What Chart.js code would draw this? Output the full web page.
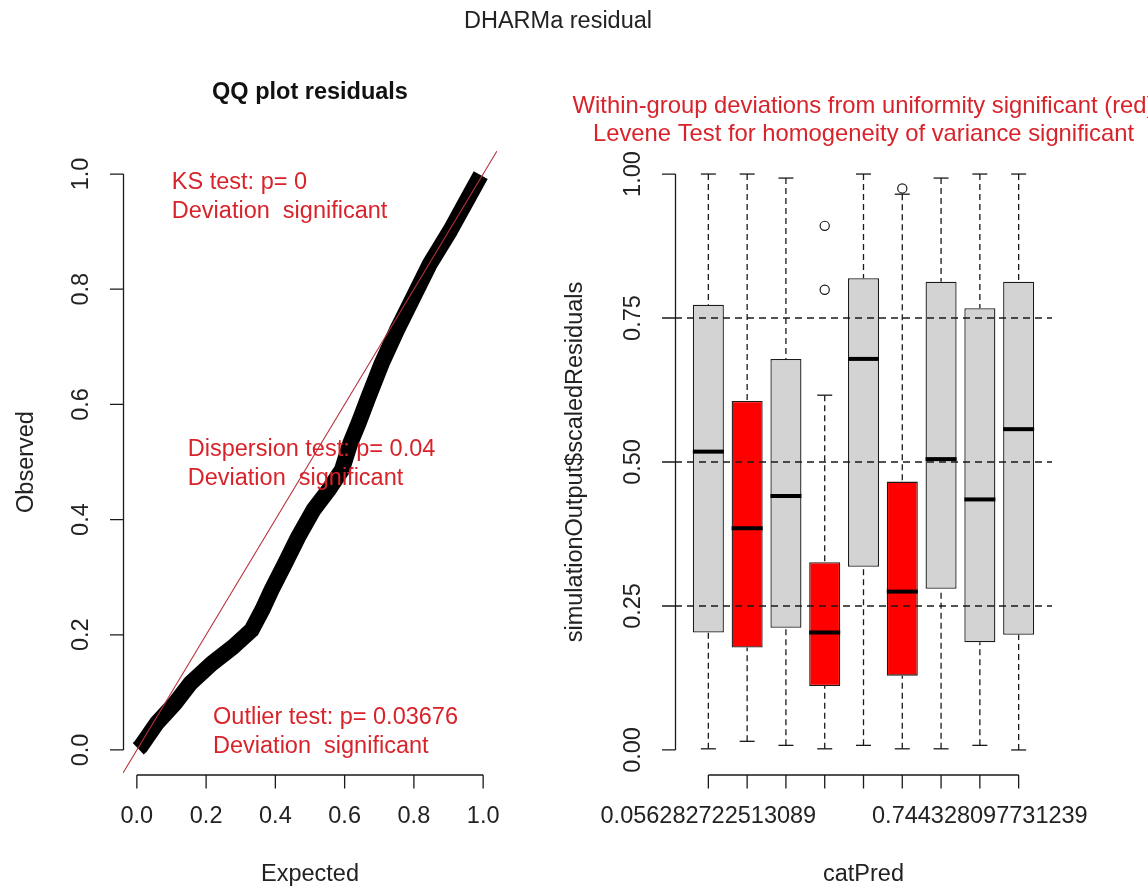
<!DOCTYPE html>
<html>
<head>
<meta charset="utf-8">
<title>DHARMa residual</title>
<script src="https://cdn.jsdelivr.net/npm/chart.js@4.4.0/dist/chart.umd.min.js"></script>
<style>
	body { margin: 0; background: #ffffff; }
	#page { position: relative; width: 1148px; height: 890px; overflow: hidden; background: #ffffff; }
	#qqChart { position: absolute; left: 0; top: 0; }
	#boxChart { position: absolute; left: 540px; top: 0; }
	#mainTitle {
		position: absolute; left: 0; top: 6px; width: 1116px; text-align: center;
		font: 23.5px "Liberation Sans", Arial, sans-serif; line-height: 28px; color: #222;
	}
</style>
</head>
<body>
<div id="page">
	<canvas id="qqChart" width="560" height="890"></canvas>
	<canvas id="boxChart" width="608" height="890"></canvas>
	<div id="mainTitle">DHARMa residual</div>
</div>
<script>
// uniform QQ plot of the scaled residuals
var qqExpected = [0.004, 0.011, 0.057, 0.110, 0.155, 0.216, 0.278, 0.331, 0.362, 0.389, 0.428, 0.466, 0.510,
	0.553, 0.592, 0.616, 0.640, 0.669, 0.707, 0.751, 0.799, 0.847, 0.905, 0.958, 0.993];
var qqObserved = [0.002, 0.006, 0.046, 0.081, 0.116, 0.150, 0.179, 0.208, 0.243, 0.278, 0.324, 0.370, 0.417,
	0.451, 0.486, 0.532, 0.567, 0.613, 0.671, 0.729, 0.787, 0.845, 0.902, 0.960, 0.998];
var qqTicks = [0, 0.2, 0.4, 0.6, 0.8, 1];
var qqLimits = [-0.04, 1.04];

var ksText = ['KS test: p= 0', 'Deviation  significant'];
var dispersionText = ['Dispersion test: p= 0.04', 'Deviation  significant'];
var outlierText = ['Outlier test: p= 0.03676', 'Deviation  significant'];

// residuals grouped by catPred
var catLabels = ['0.056282722513089', '', '', '', '', '', '', '0.744328097731239', ''];
var boxLower = [0.002, 0.015, 0.008, 0.002, 0.008, 0.002, 0.002, 0.008, 0.000];
var boxQ1 = [0.204, 0.178, 0.212, 0.111, 0.318, 0.129, 0.280, 0.187, 0.200];
var boxMedian = [0.518, 0.385, 0.441, 0.204, 0.679, 0.275, 0.505, 0.435, 0.557];
var boxQ3 = [0.773, 0.606, 0.679, 0.326, 0.819, 0.466, 0.813, 0.767, 0.813];
var boxUpper = [1.000, 1.000, 0.993, 0.616, 1.000, 0.965, 0.993, 1.000, 1.000];
var boxOutliers = [[], [], [], [0.910, 0.799], [], [0.975], [], [], []];
var groupSignificant = [false, true, false, true, false, true, false, false, false];
var residTicks = [0, 0.25, 0.5, 0.75, 1];
var residQuantiles = [0.25, 0.5, 0.75];

var FONT = '"Liberation Sans", Arial, sans-serif';
var FONT_SIZE = 23.5;
var RED = '#d8232b';
var INK = '#1a1a1a';

function setTicks(values) {
	return function(scale) {
		scale.ticks = values.map(function(v) { return {value: v}; });
	};
}

// R style axes: line from first to last tick, ticks pointing outwards
function drawAxes(chart) {
	var ctx = chart.ctx, area = chart.chartArea;
	var xs = chart.scales.x, ys = chart.scales.y;
	var xLine = area.bottom + 2, yLine = area.left + 0.5;
	var xp = xs.ticks.map(function(t) { return xs.getPixelForValue(t.value); });
	var yp = ys.ticks.map(function(t) { return ys.getPixelForValue(t.value); });

	ctx.save();
	ctx.strokeStyle = INK;
	ctx.lineWidth = 1.3;
	ctx.beginPath();
	ctx.moveTo(xp[0], xLine);
	ctx.lineTo(xp[xp.length - 1], xLine);
	xp.forEach(function(p) { ctx.moveTo(p, xLine); ctx.lineTo(p, xLine + 13.5); });
	ctx.moveTo(yLine, yp[0]);
	ctx.lineTo(yLine, yp[yp.length - 1]);
	yp.forEach(function(p) { ctx.moveTo(yLine, p); ctx.lineTo(yLine - 13.5, p); });
	ctx.stroke();

	ctx.fillStyle = '#222';
	ctx.font = FONT_SIZE + 'px ' + FONT;
	ctx.textAlign = 'center';
	ctx.textBaseline = 'middle';
	xs.ticks.forEach(function(t, i) {
		if (t.label) ctx.fillText(t.label, xp[i], xLine + 42);
	});
	ys.ticks.forEach(function(t, i) {
		ctx.save();
		ctx.translate(yLine - 42, yp[i]);
		ctx.rotate(-Math.PI / 2);
		ctx.fillText(t.label, 0, 0);
		ctx.restore();
	});
	ctx.restore();
}

function drawTitle(chart, title) {
	var ctx = chart.ctx, area = chart.chartArea;
	ctx.save();
	ctx.font = (title.bold ? 'bold ' : '') + title.size + 'px ' + FONT;
	ctx.fillStyle = title.color;
	ctx.textAlign = 'center';
	ctx.textBaseline = 'middle';
	title.lines.forEach(function(line, i) {
		ctx.fillText(line, (area.left + area.right) / 2, title.y + i * 28);
	});
	ctx.restore();
}

// test results written inside the QQ panel, anchored in data units
function drawNotes(chart, notes) {
	var ctx = chart.ctx, xs = chart.scales.x, ys = chart.scales.y;
	ctx.save();
	ctx.font = FONT_SIZE + 'px ' + FONT;
	ctx.fillStyle = RED;
	ctx.textAlign = 'left';
	ctx.textBaseline = 'middle';
	notes.forEach(function(n) {
		var px = xs.getPixelForValue(n.x), py = ys.getPixelForValue(n.y);
		n.lines.forEach(function(line, i) { ctx.fillText(line, px, py + i * 29); });
	});
	ctx.restore();
}

function drawWhiskers(chart) {
	var ctx = chart.ctx, xs = chart.scales.x, ys = chart.scales.y;
	ctx.save();
	ctx.strokeStyle = INK;
	ctx.lineWidth = 1.3;
	ctx.setLineDash([6, 4]);
	boxMedian.forEach(function(m, i) {
		var px = xs.getPixelForValue(i + 1);
		ctx.beginPath();
		ctx.moveTo(px, ys.getPixelForValue(boxUpper[i]));
		ctx.lineTo(px, ys.getPixelForValue(boxQ3[i]));
		ctx.moveTo(px, ys.getPixelForValue(boxLower[i]));
		ctx.lineTo(px, ys.getPixelForValue(boxQ1[i]));
		ctx.stroke();
	});
	ctx.restore();
}

function drawRefLines(chart, values) {
	var ctx = chart.ctx, area = chart.chartArea, ys = chart.scales.y;
	ctx.save();
	ctx.strokeStyle = INK;
	ctx.lineWidth = 1.3;
	ctx.setLineDash([7, 5]);
	ctx.beginPath();
	values.forEach(function(v) {
		var py = ys.getPixelForValue(v);
		ctx.moveTo(area.left, py);
		ctx.lineTo(area.right, py);
	});
	ctx.stroke();
	ctx.restore();
}

function makeRPlot(cfg) {
	return {
		id: 'rPlot',
		beforeDatasetsDraw: function(chart) {
			if (cfg.whiskers) drawWhiskers(chart);
		},
		afterDatasetsDraw: function(chart) {
			if (cfg.refLines) drawRefLines(chart, cfg.refLines);
		},
		afterDraw: function(chart) {
			drawAxes(chart);
			drawTitle(chart, cfg.title);
			if (cfg.notes) drawNotes(chart, cfg.notes);
		}
	};
}

function axisTitle(text, padding) {
	return {display: true, text: text, color: '#222', font: {family: FONT, size: FONT_SIZE}, padding: padding};
}

function createQQChart(chartId) {
	var refLine = qqLimits.map(function(v) { return {x: v, y: v}; });
	var points = qqExpected.map(function(v, i) { return {x: v, y: qqObserved[i]}; });

	return new Chart(document.getElementById(chartId), {
		type: 'scatter',
		data: {
			datasets: [
				{data: refLine, showLine: true, borderColor: '#b8323a', borderWidth: 1.1, pointRadius: 0, clip: 0},
				{data: points, showLine: true, borderColor: '#000000', borderWidth: 16, borderJoinStyle: 'round',
					pointRadius: 0, clip: 0}
			]
		},
		options: {
			responsive: false,
			animation: false,
			devicePixelRatio: 1,
			events: [],
			layout: {padding: {top: 151, right: 63, bottom: 0, left: 0}},
			plugins: {legend: {display: false}, tooltip: {enabled: false}},
			scales: {
				x: {
					type: 'linear', min: qqLimits[0], max: qqLimits[1],
					grid: {display: false}, border: {display: false},
					ticks: {display: false, callback: function(v) { return v.toFixed(1); }},
					afterBuildTicks: setTicks(qqTicks),
					afterFit: function(scale) { scale.height = 117; },
					title: axisTitle('Expected', {top: 0, bottom: 1})
				},
				y: {
					type: 'linear', min: qqLimits[0], max: qqLimits[1],
					grid: {display: false}, border: {display: false},
					ticks: {display: false, callback: function(v) { return v.toFixed(1); }},
					afterBuildTicks: setTicks(qqTicks),
					afterFit: function(scale) { scale.width = 123; },
					title: axisTitle('Observed', {top: 12, bottom: 0})
				}
			}
		},
		plugins: [makeRPlot({
			title: {lines: ['QQ plot residuals'], y: 93, size: FONT_SIZE, bold: true, color: '#111'},
			notes: [
				{x: 0.101, y: 0.986, lines: ksText},
				{x: 0.147, y: 0.521, lines: dispersionText},
				{x: 0.220, y: 0.056, lines: outlierText}
			]
		})]
	});
}

function createBoxChart(chartId) {
	var boxes = boxQ1.map(function(q1, i) { return {x: i + 1, y: [q1, boxQ3[i]]}; });
	var medians = boxMedian.map(function(m, i) { return {x: i + 1, y: m}; });
	var caps = [];
	var outliers = [];
	boxLower.forEach(function(lo, i) {
		caps.push({x: i + 1, y: lo});
		caps.push({x: i + 1, y: boxUpper[i]});
		boxOutliers[i].forEach(function(v) { outliers.push({x: i + 1, y: v}); });
	});
	var fills = groupSignificant.map(function(s) { return s ? '#ff0000' : '#d3d3d3'; });

	return new Chart(document.getElementById(chartId), {
		type: 'bar',
		data: {
			datasets: [
				{type: 'scatter', data: outliers, pointStyle: 'circle', pointRadius: 4.6,
					backgroundColor: '#ffffff', borderColor: INK, borderWidth: 1.2},
				{type: 'scatter', data: medians, pointStyle: 'line', pointRadius: 15.5,
					borderColor: '#000000', borderWidth: 4},
				{type: 'scatter', data: caps, pointStyle: 'line', pointRadius: 7.5,
					borderColor: INK, borderWidth: 1.3},
				{type: 'bar', data: boxes, backgroundColor: fills, borderColor: INK, borderWidth: 1.3,
					borderSkipped: false, barPercentage: 0.8, categoryPercentage: 1}
			]
		},
		options: {
			responsive: false,
			animation: false,
			devicePixelRatio: 1,
			events: [],
			layout: {padding: {top: 151, right: 96, bottom: 0, left: 0}},
			plugins: {legend: {display: false}, tooltip: {enabled: false}},
			scales: {
				x: {
					type: 'linear', min: 0.14, max: 9.86, offset: false,
					grid: {display: false}, border: {display: false},
					ticks: {display: false, callback: function(v) { return catLabels[Math.round(v) - 1]; }},
					afterBuildTicks: setTicks(catLabels.map(function(c, i) { return i + 1; })),
					afterFit: function(scale) { scale.height = 117; },
					title: axisTitle('catPred', {top: 0, bottom: 1})
				},
				y: {
					type: 'linear', min: -0.04, max: 1.04,
					grid: {display: false}, border: {display: false},
					ticks: {display: false, callback: function(v) { return v.toFixed(2); }},
					afterBuildTicks: setTicks(residTicks),
					afterFit: function(scale) { scale.width = 135; },
					title: axisTitle('simulationOutput$scaledResiduals', {top: 21, bottom: 0})
				}
			}
		},
		plugins: [makeRPlot({
			title: {
				lines: ['Within-group deviations from uniformity significant (red)',
					'Levene Test for homogeneity of variance significant'],
				y: 106, size: 23.8, bold: false, color: RED
			},
			whiskers: true,
			refLines: residQuantiles
		})]
	});
}

createQQChart('qqChart');
createBoxChart('boxChart');
</script>
</body>
</html>
